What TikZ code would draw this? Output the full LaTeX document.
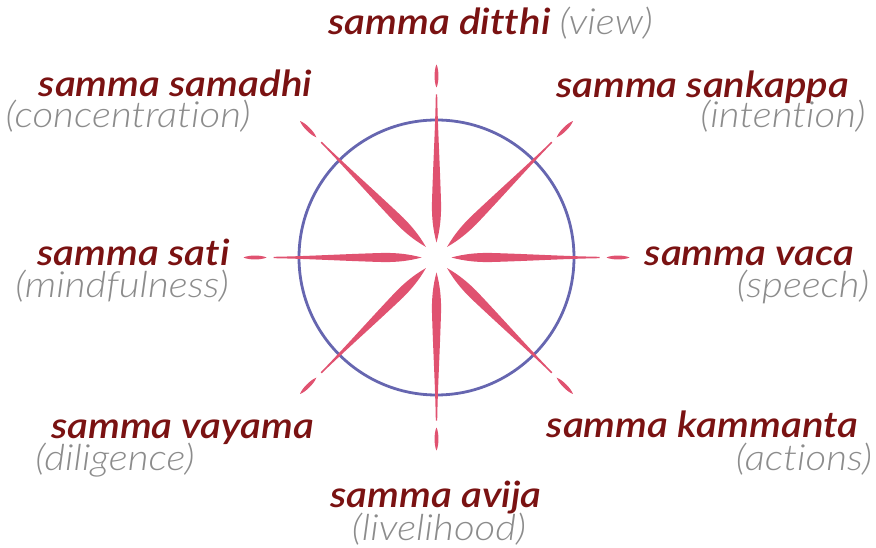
\documentclass[tikz,border=0pt]{standalone}
\usepackage{fontspec}
\setmainfont{Lato}[Ligatures={NoCommon}, FakeStretch=1.12]
\newfontfamily\lightfont{Lato Light}[Ligatures={NoCommon}, FakeStretch=1.12]
\newfontfamily\semifont{Lato Semibold}[Ligatures={NoCommon}, FakeStretch=1.12]
\definecolor{spoke}{RGB}{224,82,112}
\definecolor{ring}{RGB}{102,102,176}
\definecolor{title}{RGB}{122,18,18}
\definecolor{sub}{RGB}{140,140,140}
\tikzset{
  pali/.style={text=title,font=\fontsize{36}{42}\selectfont\semifont\itshape,inner sep=0pt,anchor=base,text depth=0pt},
  trans/.style={text=sub,font=\fontsize{36}{42}\selectfont\lightfont\itshape,inner sep=0pt,anchor=base,text height=20pt},
}
\begin{document}
\begin{tikzpicture}[x=1pt,y=-1pt]
\useasboundingbox (0,0) rectangle (876,548);
\coordinate (c) at (436.5,257.5);
\draw[ring,line width=2.8pt] (c) circle[radius=137.5];
\foreach \a in {0,45,...,315}{
  \begin{scope}[shift={(c)},rotate=\a]
    \fill[spoke] (15,0) .. controls (28,3.6) and (40,4.6) .. (52,4.6)
      .. controls (90,3.6) and (130,1.2) .. (163,0.7) -- (163,-0.7)
      .. controls (130,-1.2) and (90,-3.6) .. (52,-4.6)
      .. controls (40,-4.6) and (28,-3.6) .. (15,0) -- cycle;
    \fill[spoke] (170,0) .. controls (175,2.6) and (188,2.6) .. (193,0)
      .. controls (188,-2.6) and (175,-2.6) .. (170,0) -- cycle;
  \end{scope}
}
\node[pali] (p1) at (490.5,35) {samma ditthi \textcolor{sub}{\lightfont\itshape(view)}};
\node[pali] (p2) at (175.5,97) {samma samadhi};
\node[trans] (t2) at (128,128) {(concentration)};
\node[pali] (p3) at (702.5,98) {samma sankappa};
\node[trans] (t3) at (783,128) {(intention)};
\node[pali] (p4) at (133.5,266) {samma sati};
\node[trans] (t4) at (122,298) {(mindfulness)};
\node[pali] (p5) at (749.5,266) {samma vaca};
\node[trans] (t5) at (803,298) {(speech)};
\node[pali] (p6) at (182.5,438) {samma vayama};
\node[trans] (t6) at (115,470) {(diligence)};
\node[pali] (p7) at (702.5,437) {samma kammanta};
\node[trans] (t7) at (804,470) {(actions)};
\node[pali] (p8) at (436,507) {samma avija};
\node[trans] (t8) at (439,540) {(livelihood)};
\end{tikzpicture}
\end{document}
